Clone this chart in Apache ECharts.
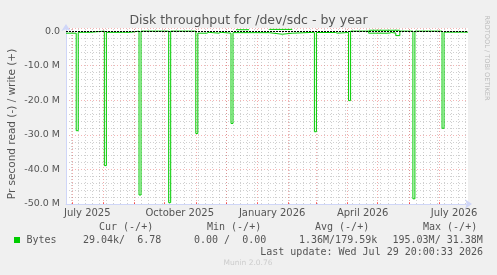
<!DOCTYPE html>
<html><head><meta charset="utf-8">
<script src="https://cdn.jsdelivr.net/npm/echarts@6/dist/echarts.min.js"></script>
<style>html,body{margin:0;padding:0;background:#F0F0F0}#c{width:497px;height:275px}</style>
</head><body><div id="c"></div><script>
// ---- data (values in M bytes/s; read plotted negative, write positive) ----
const startTime = "2025-06-24T20:00:33";
const endTime = "2026-07-29T20:00:33";
const readDates = ["2025-06-24T20:00:33","2025-07-05","2025-07-07","2025-07-12","2025-07-13","2025-07-15","2025-07-16","2025-07-19",
  "2025-08-02","2025-08-04","2025-08-20","2025-08-21","2025-08-23","2025-08-24","2025-08-28",
  "2025-09-05T12:00:00","2025-09-07T12:00:00","2025-10-05","2025-10-07","2025-11-01","2025-11-03","2025-11-12","2025-11-14","2025-11-24","2025-11-26",
  "2025-12-06","2025-12-08","2026-01-13","2026-01-26","2026-02-05","2026-02-27","2026-03-01","2026-03-20","2026-03-22",
  "2026-04-02","2026-04-04","2026-04-22","2026-05-12","2026-05-15","2026-05-19","2026-05-23",
  "2026-06-05","2026-06-07","2026-07-04","2026-07-06","2026-07-29T20:00:33"];
const readValues = [-0.6,-28.8,-0.35,-0.9,-0.35,-0.8,-0.35,0,
  -38.9,-0.35,-0.9,-0.35,-0.8,-0.35,0,
  -47.4,0,-49.6,0,-29.6,-0.6,-0.35,-0.6,-0.35,-0.6,
  -26.7,-0.45,-0.9,-0.6,-0.35,-29.1,-0.4,-0.6,-0.4,
  -20.1,0,-0.6,-0.4,-0.6,-1.3,0,
  -48.5,0,-28.1,-0.3,-0.3];
const writeDates = ["2025-12-11","2025-12-24","2025-12-24","2026-01-13","2026-02-05","2026-02-05","2026-04-22","2026-05-23"];
const writeValues = [0.4,0.4,null,0.5,0.5,null,0.25,0.25];
const monthLines = ["2025-07-01","2025-08-01","2025-09-01","2025-10-01","2025-11-01","2025-12-01","2026-01-01",
  "2026-02-01","2026-03-01","2026-04-01","2026-05-01","2026-06-01","2026-07-01"];
const xLabelDates = ["2025-07-16","2025-10-16","2026-01-16","2026-04-16","2026-07-16"];
const xLabels = ["July 2025","October 2025","January 2026","April 2026","July 2026"];
const yLabels = {"-50":"-50.0 M","-40":"-40.0 M","-30":"-30.0 M","-20":"-20.0 M","-10":"-10.0 M","0":"0.0"};
const yName = "Pr second read (-) / write (+)";
const legendHeader = ["Cur (-/+)","Min (-/+)","Avg (-/+)","Max (-/+)"];
const legendValues = ["29.04k/  6.78","0.00 /  0.00","1.36M/179.59k","195.03M/ 31.38M"];
const seriesName = "Bytes";
const lastUpdate = "Last update: Wed Jul 29 20:00:33 2026";

// ---- build ----
const T = s => Date.parse(s.length === 10 ? s + "T00:00:00" : s);
const t0 = T(startTime), t1 = T(endTime);
const readData = readDates.map((d,i)=>[T(d), readValues[i]]);
const writeData = writeDates.map((d,i)=>[T(d), writeValues[i]]);
const monthTs = monthLines.map(T);
const weekTs = [];
for (let t = T("2025-06-30"); t < t1; t += 7*86400000) weekTs.push(t);
const labelTs = xLabelDates.map(T);

const chart = echarts.init(document.getElementById('c'), null, {renderer:'canvas'});
const axisColor = '#CFD6F8';
const txt = '#555';
const F = 'DejaVu Sans';
const M = 'DejaVu Sans Mono';
chart.setOption({
  animation:false,
  backgroundColor:'#F0F0F0',
  title:{text:'Disk throughput for /dev/sdc - by year', left:'center', top:9,
    textStyle:{fontFamily:F, fontSize:12.5, fontWeight:'normal', color:txt}},
  grid:{left:66, right:29, top:28, bottom:71, show:true, backgroundColor:'#fff', borderWidth:0,
    containLabel:false, outerBoundsMode:'none'},
  xAxis:{type:'value', min:t0, max:t1,
    axisLine:{onZero:false, lineStyle:{color:axisColor, width:1}, symbol:['none','arrow'], symbolSize:[7,7], symbolOffset:[0,4]},
    axisTick:{show:true, customValues:monthTs, length:-2, lineStyle:{color:'rgba(255,0,0,0.5)'}},
    axisLabel:{customValues:labelTs, formatter:v=>{const i=labelTs.indexOf(+v);return i>=0?xLabels[i]:'';},
      fontFamily:F, fontSize:10, color:txt, margin:4, hideOverlap:false},
    splitLine:{show:false}},
  yAxis:{type:'value', min:-50, max:0.9, interval:10,
    axisLine:{show:true, lineStyle:{color:axisColor}, symbol:['none','arrow'], symbolSize:[7,7], symbolOffset:[0,4]},
    axisTick:{show:false},
    axisLabel:{formatter:v=>yLabels[String(Math.round(v))]||'', fontFamily:F, fontSize:9.5, color:txt, margin:6, showMaxLabel:false},
    splitLine:{show:true, lineStyle:{color:'rgba(230,90,90,0.45)', type:[1,2]}},
    minorTick:{show:false, splitNumber:5},
    minorSplitLine:{show:true, lineStyle:{color:'rgba(150,150,150,0.45)', type:[1,2]}}},
  series:[
    {type:'line', z:1, data:[[t0,null]], symbol:'none', silent:true,
      markLine:{z:0, silent:true, symbol:['none','none'], label:{show:false}, animation:false,
        lineStyle:{color:'rgba(150,150,150,0.45)', type:[1,2], width:1},
        data:weekTs.map(t=>({xAxis:t}))}},
    {type:'line', z:1, data:[[t0,null]], symbol:'none', silent:true,
      markLine:{z:0, silent:true, symbol:['none','none'], label:{show:false}, animation:false,
        lineStyle:{color:'rgba(230,90,90,0.5)', type:[1,2], width:1},
        data:monthTs.map(t=>({xAxis:t}))}},
    {name:seriesName, type:'line', z:3, step:'end', data:readData, symbol:'none', showSymbol:false,
      lineStyle:{color:'#00CC00', width:1}, silent:true},
    {name:seriesName, type:'line', z:3, step:'end', data:writeData, symbol:'none', showSymbol:false, connectNulls:false,
      lineStyle:{color:'#00CC00', width:1}, silent:true},
    {type:'line', z:5, data:[[t0,null]], symbol:'none', silent:true,
      markLine:{z:5, silent:true, symbol:['none','none'], label:{show:false}, animation:false,
        lineStyle:{color:'#000', type:[2,1], width:1},
        data:[{yAxis:0}]}}
  ],
  graphic:[
    {type:'text', x:12, y:124, rotation:Math.PI/2, style:{text:yName, font:'10.5px '+F, fill:txt, textAlign:'center', textVerticalAlign:'middle'}},
    {type:'text', x:487, y:58, rotation:-Math.PI/2, style:{text:'RRDTOOL / TOBI OETIKER', font:'6.6px '+F, fill:'#bbb', textAlign:'center', textVerticalAlign:'middle'}},
    {type:'text', x:99, y:227, style:{text:legendHeader[0], font:'10px '+M, fill:txt, textVerticalAlign:'middle'}},
    {type:'text', x:207, y:227, style:{text:legendHeader[1], font:'10px '+M, fill:txt, textVerticalAlign:'middle'}},
    {type:'text', x:315, y:227, style:{text:legendHeader[2], font:'10px '+M, fill:txt, textVerticalAlign:'middle'}},
    {type:'text', x:423, y:227, style:{text:legendHeader[3], font:'10px '+M, fill:txt, textVerticalAlign:'middle'}},
    {type:'rect', shape:{x:14, y:237, width:6, height:6}, style:{fill:'#00CC00'}},
    {type:'text', x:26.5, y:240, style:{text:seriesName, font:'10px '+M, fill:txt, textVerticalAlign:'middle'}},
    {type:'text', x:83, y:240, style:{text:legendValues[0], font:'10px '+M, fill:txt, textVerticalAlign:'middle'}},
    {type:'text', x:194, y:240, style:{text:legendValues[1], font:'10px '+M, fill:txt, textVerticalAlign:'middle'}},
    {type:'text', x:299, y:240, style:{text:legendValues[2], font:'10px '+M, fill:txt, textVerticalAlign:'middle'}},
    {type:'text', x:392.5, y:240, style:{text:legendValues[3], font:'10px '+M, fill:txt, textVerticalAlign:'middle'}},
    {type:'text', x:483, y:252, style:{text:lastUpdate, font:'10px '+M, fill:txt, textAlign:'right', textVerticalAlign:'middle'}},
    {type:'text', x:248, y:263.5, style:{text:'Munin 2.0.76', font:'7.5px '+F, fill:'#ccc', textAlign:'center', textVerticalAlign:'middle'}}
  ]
});
</script></body></html>
